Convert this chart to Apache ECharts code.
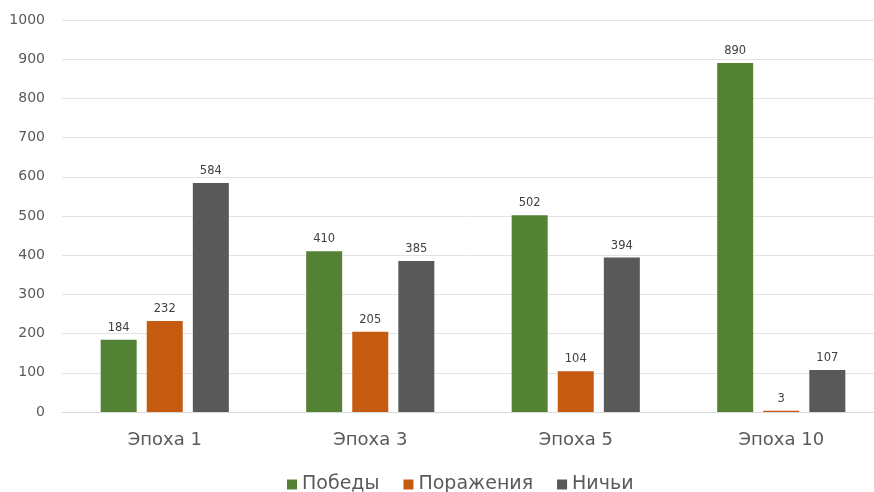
<!DOCTYPE html>
<html>
<head>
<meta charset="utf-8">
<script src="https://cdn.jsdelivr.net/npm/echarts@6/dist/echarts.min.js"></script>
<style>
  html, body { margin: 0; padding: 0; background: #ffffff; }
  #chart { width: 874px; height: 492px; }
</style>
</head>
<body>
<div id="chart"></div>
<script>
// Results per training epoch
const categories = ['Эпоха 1', 'Эпоха 3', 'Эпоха 5', 'Эпоха 10'];
const wins = [184, 410, 502, 890];
const losses = [232, 205, 104, 3];
const draws = [584, 385, 394, 107];
const seriesNames = ['Победы', 'Поражения', 'Ничьи'];
const yTicks = [0, 100, 200, 300, 400, 500, 600, 700, 800, 900, 1000];

const colors = ['#548235', '#C55A11', '#595959'];
const font = 'DejaVu Sans, Noto Sans, sans-serif';

const chart = echarts.init(document.getElementById('chart'));

function makeSeries(name, data, color) {
  return {
    name: name,
    type: 'bar',
    data: data,
    barWidth: 36,
    barGap: '28%',
    itemStyle: { color: color },
    label: {
      show: true,
      position: 'top',
      distance: 6,
      color: '#404040',
      fontSize: 11.5,
      fontFamily: font
    }
  };
}

chart.setOption({
  animation: false,
  color: colors,
  grid: { left: 62, width: 822, top: 20, bottom: 80, outerBoundsMode: 'none', containLabel: false },
  legend: {
    data: seriesNames,
    top: 470,
    left: 282,
    icon: 'rect',
    itemWidth: 10,
    itemHeight: 10,
    itemGap: 24,
    textStyle: { color: '#5a5a5a', fontSize: 19, fontFamily: font }
  },
  xAxis: {
    type: 'category',
    data: categories,
    axisLine: { show: true, lineStyle: { color: '#d9d9d9' } },
    axisTick: { show: false },
    axisLabel: { color: '#5a5a5a', fontSize: 18, fontFamily: font, margin: 19 }
  },
  yAxis: {
    type: 'value',
    min: yTicks[0],
    max: yTicks[yTicks.length - 1],
    interval: yTicks[1] - yTicks[0],
    axisLine: { show: false },
    axisTick: { show: false },
    splitLine: { lineStyle: { color: '#e3e3e3', width: 1 } },
    axisLabel: {
      color: '#5a5a5a', fontSize: 14, fontFamily: font, margin: 17,
      formatter: function (v) { return String(v); }
    }
  },
  series: [
    makeSeries(seriesNames[0], wins, colors[0]),
    makeSeries(seriesNames[1], losses, colors[1]),
    makeSeries(seriesNames[2], draws, colors[2])
  ]
});
</script>
</body>
</html>
